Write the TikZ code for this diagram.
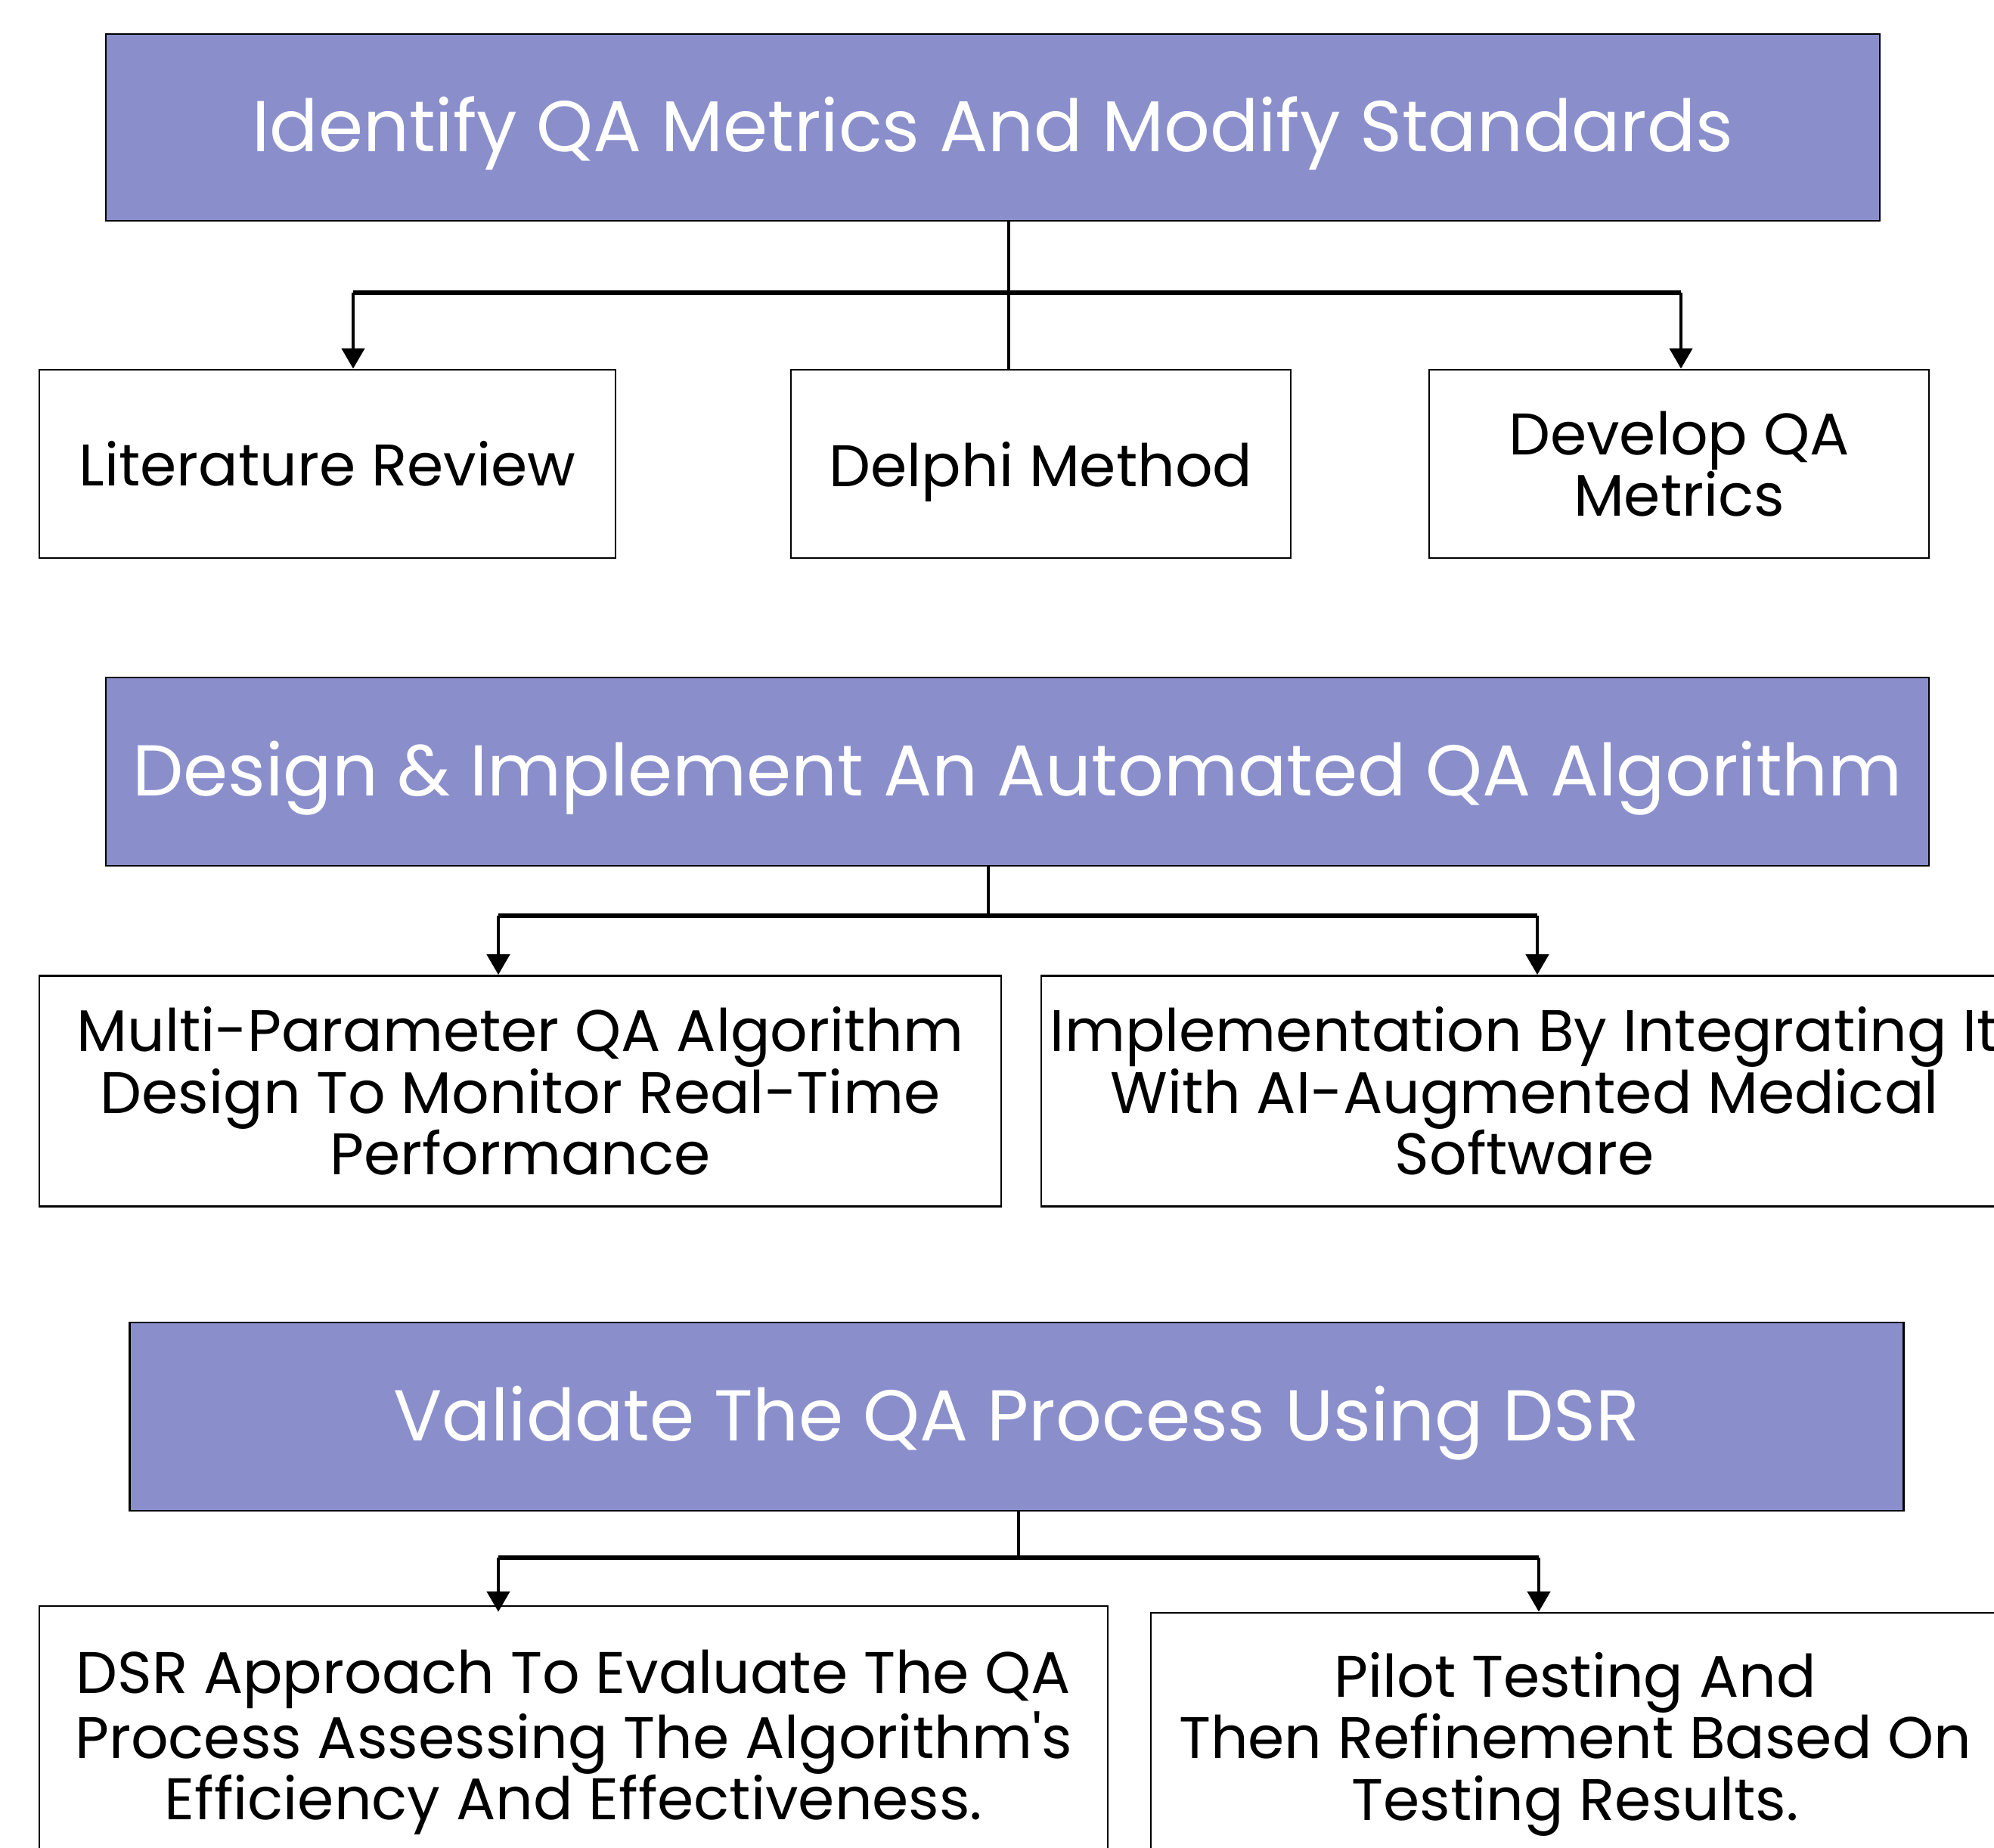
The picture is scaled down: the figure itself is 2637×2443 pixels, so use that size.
\documentclass[tikz,border=0pt]{standalone}
\usepackage{fontspec}
\setmainfont{Poppins}[Ligatures=TeXOff]
\usetikzlibrary{arrows.meta}
\definecolor{headfill}{RGB}{138,143,204}
\tikzset{
  headbox/.style={draw=black, line width=0.8pt, fill=headfill, text=white,
    font=\fontsize{27.1}{30}\selectfont, inner sep=0pt, text depth=0.9mm},
  subbox/.style={draw=black, line width=0.8pt, fill=white, align=center,
    font=\fontsize{22.1}{23.2}\selectfont, inner sep=0pt},
  stem/.style={line width=1.3pt},
  bar/.style={line width=1.8pt},
  down/.style={line width=1.3pt, -{Triangle[width=3mm,length=2.7mm]}}
}
\begin{document}
\begin{tikzpicture}[x=0.1mm, y=-0.1mm]
\clip (0,0) rectangle (2637,2443);
\fill[white] (0,0) rectangle (2637,2443);

% first stage
\node[headbox, minimum width=234.6mm, minimum height=24.7mm] (h1) at (1313,168.5)
  {Identify QA Metrics And Modify Standards};
\node[subbox, minimum width=76.2mm, minimum height=24.9mm] (lit) at (433,613.5)
  {Literature Review};
\node[subbox, minimum width=66.1mm, minimum height=24.9mm, text depth=0pt] (delphi) at (1376.5,613.5)
  {Delphi Method};
\node[subbox, minimum width=66.1mm, minimum height=24.9mm] (dev) at (2220.5,613.5)
  {Develop QA\\Metrics};

% second stage
\node[headbox, minimum width=241.1mm, minimum height=24.9mm] (h2) at (1345.5,1020.5)
  {Design \& Implement An Automated QA Algorithm};
\node[subbox, minimum width=127.2mm, minimum height=30.5mm] (alg) at (688,1443)
  {Multi-Parameter QA Algorithm\\Design To Monitor Real-Time\\Performance};
\node[subbox, minimum width=127.8mm, minimum height=30.5mm] (impl) at (2016,1443)
  {Implementation By Integrating It\\With AI-Augmented Medical\\Software};

% third stage
\node[headbox, minimum width=234.6mm, minimum height=24.9mm] (h3) at (1344.5,1873.5)
  {Validate The QA Process Using DSR};
\node[subbox, minimum width=141.3mm, minimum height=36.1mm] (dsr) at (758.5,2304.5)
  {DSR Approach To Evaluate The QA\\Process Assessing The Algorithm's\\Efficiency And Effectiveness.};
\node[subbox, minimum width=112.2mm, minimum height=34.7mm] (pilot) at (2083,2306.5)
  {Pilot Testing And\\Then Refinement Based On\\Testing Results.};

% branching connectors
\coordinate (j1) at (1334,387);
\coordinate (l1) at (467,387);
\coordinate (r1) at (2223,387);
\draw[stem] (j1 |- h1.south) -- (j1 |- delphi.north);
\draw[bar] (l1) -- (r1);
\draw[down] (l1) -- (l1 |- lit.north);
\draw[down] (r1) -- (r1 |- dev.north);

\coordinate (j2) at (1307,1211);
\coordinate (l2) at (659,1211);
\coordinate (r2) at (2033,1211);
\draw[stem] (j2 |- h2.south) -- (j2);
\draw[bar] (l2) -- (r2);
\draw[down] (l2) -- (l2 |- alg.north);
\draw[down] (r2) -- (r2 |- impl.north);

\coordinate (j3) at (1347,2060);
\coordinate (l3) at (659,2060);
\coordinate (r3) at (2035,2060);
\draw[stem] (j3 |- h3.south) -- (j3);
\draw[bar] (l3) -- (r3);
\draw[down] (l3) -- (l3 |- pilot.north);
\draw[down] (r3) -- (r3 |- pilot.north);
\end{tikzpicture}
\end{document}
